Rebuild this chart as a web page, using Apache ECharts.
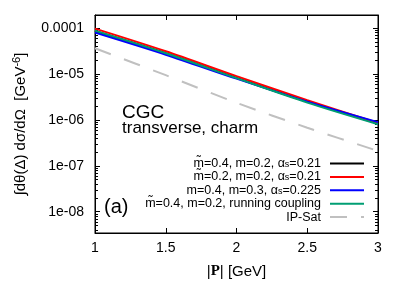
<!DOCTYPE html>
<html>
<head>
<meta charset="utf-8">
<script src="https://cdn.jsdelivr.net/npm/echarts@6/dist/echarts.min.js"></script>
<style>html,body{margin:0;padding:0;background:#fff}#c{width:407px;height:284px}</style>
</head>
<body>
<div id="c"></div>
<script>
const P = [1, 1.5, 2, 2.5, 3];
const blackVals = [8.7e-5, 2.86e-5, 8.3e-6, 2.5e-6, 8.4e-7];
const redVals = [9.85e-5, 3.16e-5, 9.04e-6, 2.72e-6, 8.6e-7];
const blueVals = [8.07e-5, 2.66e-5, 7.98e-6, 2.52e-6, 9.0e-7];
const greenVals = [8.91e-5, 2.86e-5, 8.18e-6, 2.40e-6, 8.1e-7];
const ipsatVals = [3.67e-5, 9.5e-6, 2.38e-6, 6.8e-7, 2.12e-7];
const xTicks = [1, 1.5, 2, 2.5, 3];
const yTickLabels = {'-4': '0.0001', '-5': '1e-05', '-6': '1e-06', '-7': '1e-07', '-8': '1e-08'};
const names = ['s1', 's2', 's3', 's4', 's5'];
const legendText = {
  s1: 'm\u0303=0.4, m=0.2, \u03b1{s|s}=0.21',
  s2: 'm\u0303=0.2, m=0.2, \u03b1{s|s}=0.21',
  s3: 'm=0.4, m=0.3, \u03b1{s|s}=0.225',
  s4: 'm\u0303=0.4, m=0.2, running coupling',
  s5: 'IP-Sat'
};
const FONT = 'Liberation Sans';

function mk(vals) { return P.map((p, i) => [p, vals[i]]); }

const chart = echarts.init(document.getElementById('c'), null, {renderer: 'canvas'});
const axisCommon = {
  axisLine: {show: true, lineStyle: {color: '#000', width: 1}},
  splitLine: {show: false}
};
chart.setOption({
  animation: false,
  textStyle: {fontFamily: FONT},
  grid: {left: 95, right: 29, top: 15, bottom: 51, show: true, borderColor: '#000', borderWidth: 1, containLabel: false},
  xAxis: [{
    type: 'value', min: 1, max: 3, interval: 0.5, ...axisCommon,
    axisTick: {inside: true, length: 5, lineStyle: {color: '#000'}},
    axisLabel: {fontSize: 14, color: '#000', margin: 8, fontFamily: FONT,
      formatter: v => (xTicks.indexOf(Math.round(v * 10) / 10) >= 0 ? String(Math.round(v * 10) / 10) : '')},
    name: '|{b|P}| [GeV]', nameLocation: 'middle', nameGap: 31,
    nameTextStyle: {fontSize: 15, color: '#000', fontFamily: FONT,
      rich: {b: {fontSize: 15, fontWeight: 'bold', fontFamily: 'Liberation Serif', color: '#000'}}}
  }, {
    type: 'value', position: 'top', min: 1, max: 3, interval: 0.5, ...axisCommon,
    axisTick: {inside: true, length: 5, lineStyle: {color: '#000'}},
    axisLabel: {show: false}
  }],
  yAxis: [{
    type: 'log', logBase: 10, min: 3.44e-9, max: 1.95e-4, splitNumber: 5, ...axisCommon,
    axisTick: {inside: true, length: 5, lineStyle: {color: '#000'}},
    minorTick: {show: true, splitNumber: 9, length: 3, lineStyle: {color: '#000'}},
    axisLabel: {fontSize: 14, color: '#000', margin: 11, fontFamily: FONT,
      formatter: v => {
        const e = Math.log10(v); const r = Math.round(e);
        if (Math.abs(e - r) > 1e-6) return '';
        return yTickLabels[String(r)] || '';
      }},
    name: '\u222bd\u03b8(\u0394) d\u03c3/d\u03a9  [GeV{sup|-6}]', nameLocation: 'middle', nameGap: 64,
    nameTextStyle: {fontSize: 15, color: '#000', fontFamily: FONT,
      rich: {sup: {fontSize: 11, verticalAlign: 'top', padding: [0, 0, 9, 0], color: '#000', fontFamily: FONT}}}
  }, {
    type: 'log', logBase: 10, position: 'right', min: 3.44e-9, max: 1.95e-4, splitNumber: 5, ...axisCommon,
    axisTick: {inside: true, length: 5, lineStyle: {color: '#000'}},
    minorTick: {show: true, splitNumber: 9, length: 3, lineStyle: {color: '#000'}},
    axisLabel: {show: false}
  }],
  legend: {
    show: true, orient: 'vertical', align: 'right', right: 37, top: 152,
    itemWidth: 34, itemHeight: 10, itemGap: 0.4,
    data: names,
    itemStyle: {opacity: 0},
    formatter: n => legendText[n],
    textStyle: {fontSize: 12.5, color: '#000', fontFamily: FONT, lineHeight: 11, padding: [0, 4, 0, 0],
      rich: {s: {fontSize: 9, verticalAlign: 'bottom', lineHeight: 8, padding: [3, 0, 0, 0], fontFamily: FONT, color: '#000'}}}
  },
  graphic: [
    {type: 'text', left: 122, top: 103, style: {text: 'CGC', fontSize: 19, fill: '#000', fontFamily: FONT}},
    {type: 'text', left: 122, top: 120, style: {text: 'transverse, charm', fontSize: 17, fill: '#000', fontFamily: FONT}},
    {type: 'text', left: 104, top: 197, style: {text: '(a)', fontSize: 20, fill: '#000', fontFamily: FONT}}
  ],
  series: [
    {name: 's1', type: 'line', data: mk(blackVals), symbol: 'none', smooth: 0.3, lineStyle: {color: '#000', width: 2}, itemStyle: {color: '#000'}},
    {name: 's2', type: 'line', data: mk(redVals), symbol: 'none', smooth: 0.3, lineStyle: {color: '#ff0000', width: 2}, itemStyle: {color: '#ff0000'}},
    {name: 's3', type: 'line', data: mk(blueVals), symbol: 'none', smooth: 0.3, lineStyle: {color: '#0000ff', width: 2}, itemStyle: {color: '#0000ff'}},
    {name: 's4', type: 'line', data: mk(greenVals), symbol: 'none', smooth: 0.3, lineStyle: {color: '#009e73', width: 2}, itemStyle: {color: '#009e73'}},
    {name: 's5', type: 'line', data: mk(ipsatVals), symbol: 'none', smooth: 0.3, lineStyle: {color: '#c0c0c0', width: 2, type: [17, 14]}, itemStyle: {color: '#c0c0c0'}}
  ]
});
</script>
</body>
</html>
